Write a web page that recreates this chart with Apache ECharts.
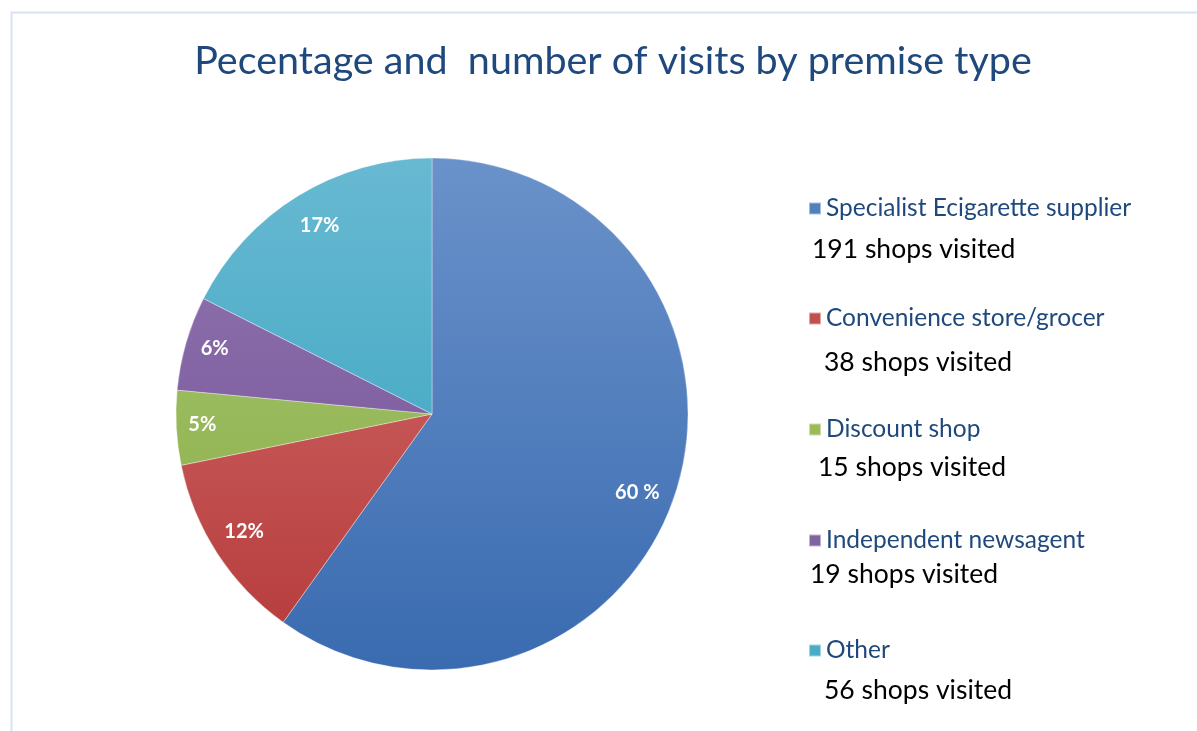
<!DOCTYPE html>
<html>
<head>
<meta charset="utf-8">
<script src="https://cdn.jsdelivr.net/npm/echarts@6/dist/echarts.min.js"></script>
<style>
html,body{margin:0;padding:0;background:#fff;}
#chart{width:1197px;height:731px;}
</style>
</head>
<body>
<div id="chart"></div>
<script>
// ---- data ----
const categories = ['Specialist Ecigarette supplier', 'Convenience store/grocer', 'Discount shop', 'Independent newsagent', 'Other'];
const shopsVisited = [191, 38, 15, 19, 56];
const percentLabels = ['60 %', '12%', '5%', '6%', '17%'];
const titleText = 'Pecentage and  number of visits by premise type';

// ---- styles ----
const gradTop = ['#6a92ca', '#d4726f', '#aac974', '#9679b2', '#68b9d2'];
const gradBot = ['#3a6bb0', '#b5393a', '#87aa43', '#6c4a93', '#31a0bd'];
const solid = ['#4f81bd', '#c0504d', '#9bbb59', '#8064a2', '#4bacc6'];
const labelOffsets = [[-8, 10], [0, -4], [-6, -2], [-2, -3], [5, 2]];
const CX = 432, CY = 414, R = 256;

const chart = echarts.init(document.getElementById('chart'));

function grad(i) {
  return new echarts.graphic.LinearGradient(0, CY - R, 0, CY + R, [
    { offset: 0, color: gradTop[i] },
    { offset: 1, color: gradBot[i] }
  ], true);
}

const legendTops = [208, 318, 429, 540, 650];
const countPos = [[812, 249], [824, 362], [818, 467], [810, 574], [824, 690]];

const option = {
  backgroundColor: '#fff',
  animation: false,
  title: {
    text: titleText,
    left: 608, top: 36, textAlign: 'center',
    textStyle: { fontFamily: 'Lato', fontSize: 39.5, fontWeight: 'normal', color: '#1f497d' }
  },
  legend: categories.map((c, i) => ({
    data: [{ name: c, itemStyle: { color: solid[i] } }],
    left: 803, top: legendTops[i] - 17,
    icon: 'rect', itemWidth: 12, itemHeight: 12, itemGap: 5,
    selectedMode: false,
    textStyle: { fontFamily: 'Lato', fontSize: 24.5, color: '#1f497d' }
  })),
  graphic: [
    {
      type: 'rect', silent: true,
      shape: { x: 11.5, y: 12.5, width: 1300, height: 800 },
      style: { fill: 'none', stroke: '#d5e3f5', lineWidth: 2 }
    }
  ].concat(shopsVisited.map((v, i) => ({
    type: 'text', silent: true,
    x: countPos[i][0], y: countPos[i][1],
    style: {
      text: v + ' shops visited',
      fontFamily: 'Lato', fontSize: 26.5, fill: '#000',
      verticalAlign: 'middle', align: 'left'
    }
  }))),
  series: [
    {
      type: 'pie',
      center: [CX, CY], radius: [0, R],
      startAngle: 90, clockwise: true,
      label: { show: false }, labelLine: { show: false },
      emphasis: { disabled: true },
      itemStyle: { borderColor: 'rgba(255,255,255,0.5)', borderWidth: 0.7 },
      data: categories.map((c, i) => ({ name: c, value: shopsVisited[i], itemStyle: { color: grad(i) } }))
    },
    {
      type: 'pie',
      center: [CX, CY], radius: [200, 242],
      startAngle: 90, clockwise: true,
      silent: true,
      labelLine: { show: false },
      emphasis: { disabled: true },
      label: {
        show: true, position: 'inside',
        fontFamily: 'Lato', fontSize: 20, fontWeight: 'bold', color: '#fff',
        formatter: p => percentLabels[p.dataIndex]
      },
      data: categories.map((c, i) => ({
        name: c, value: shopsVisited[i],
        itemStyle: { color: 'rgba(0,0,0,0)' },
        label: { offset: labelOffsets[i] }
      }))
    }
  ]
};
chart.setOption(option);
</script>
</body>
</html>
